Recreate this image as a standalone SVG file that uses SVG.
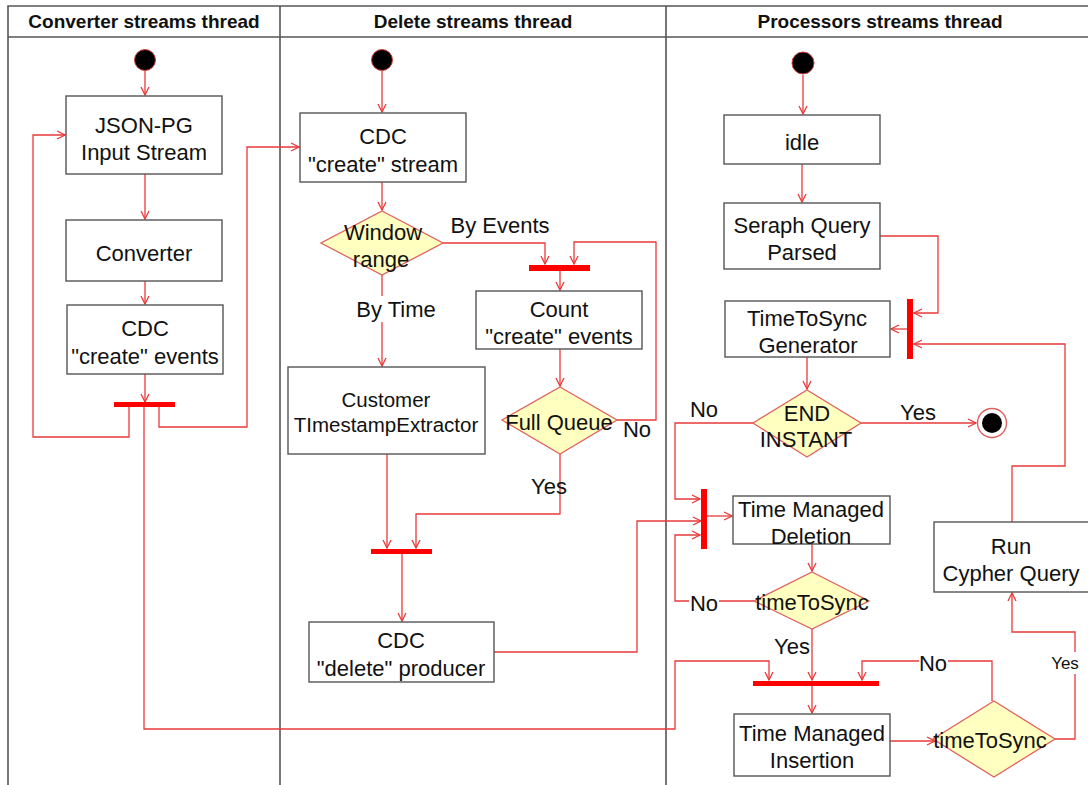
<svg xmlns="http://www.w3.org/2000/svg" width="1088" height="785" viewBox="0 0 1088 785">
  <style>
    .lane { stroke: #555; stroke-width: 1.6; fill: none; }
    .hdr { font-family: "Liberation Sans", Arial, sans-serif; font-weight: bold; font-size: 19px; fill: #111; text-anchor: middle; }
    .box { fill: #fff; stroke: #555; stroke-width: 1.4; }
    .dia { fill: #ffffc0; stroke: #e06060; stroke-width: 1.3; }
    .t { font-family: "Liberation Sans", Arial, sans-serif; font-size: 22px; fill: #111; text-anchor: middle; }
    .ts { font-size: 20.5px; }
    .lbl { font-family: "Liberation Sans", Arial, sans-serif; font-size: 22px; fill: #111; text-anchor: middle; }
    .edge { fill: none; stroke: #e83a3a; stroke-width: 1.3; }
    .bar { fill: #ff0000; }
    .start { fill: #000; stroke: #d04040; stroke-width: 1; }
  </style>
  <defs>
    <marker id="arr" markerWidth="10" markerHeight="10" refX="9" refY="5" orient="auto" markerUnits="userSpaceOnUse">
      <path d="M1,1 L9,5 L1,9" fill="none" stroke="#e83a3a" stroke-width="1.3"/>
    </marker>
  </defs>

  <rect width="1088" height="785" fill="#fff"/>

  <!-- swimlanes -->
  <g id="lanes">
    <path class="lane" d="M8,785 V6 H1088 M8,37 H1088 M280,6 V785 M666,6 V785"/>
    <text class="hdr" x="144" y="28">Converter streams thread</text>
    <text class="hdr" x="473" y="28">Delete streams thread</text>
    <text class="hdr" x="880" y="28">Processors streams thread</text>
  </g>

  <!-- connectors -->
  <g id="connectors">
    <!-- converter lane -->
    <path class="edge" marker-end="url(#arr)" d="M145,71 V95"/>
    <path class="edge" marker-end="url(#arr)" d="M145,174 V219"/>
    <path class="edge" marker-end="url(#arr)" d="M145,281 V304"/>
    <path class="edge" marker-end="url(#arr)" d="M145,374 V402"/>
    <path class="edge" marker-end="url(#arr)" d="M129,407 V437 H33 V135 H65"/>
    <path class="edge" marker-end="url(#arr)" d="M159,407 V427 H247 V147 H299"/>
    <path class="edge" marker-end="url(#arr)" d="M144,407 V729 H675 V661 H769 V680"/>
    <!-- delete lane -->
    <path class="edge" marker-end="url(#arr)" d="M382,71 V112"/>
    <path class="edge" marker-end="url(#arr)" d="M382,182 V210"/>
    <path class="edge" marker-end="url(#arr)" d="M443,243 H545 V264"/>
    <path class="edge" marker-end="url(#arr)" d="M617,420 H656 V242 H574 V264"/>
    <path class="edge" marker-end="url(#arr)" d="M560,271 V290"/>
    <path class="edge" marker-end="url(#arr)" d="M560,349 V386"/>
    <path class="edge" marker-end="url(#arr)" d="M382,275 V366"/>
    <path class="edge" marker-end="url(#arr)" d="M387,454 V548"/>
    <path class="edge" marker-end="url(#arr)" d="M560,454 V514 H416 V548"/>
    <path class="edge" marker-end="url(#arr)" d="M402,554 V621"/>
    <path class="edge" marker-end="url(#arr)" d="M494,652 H637 V521 H701"/>
    <!-- processors lane -->
    <path class="edge" marker-end="url(#arr)" d="M803,75 V114"/>
    <path class="edge" marker-end="url(#arr)" d="M802,164 V202"/>
    <path class="edge" marker-end="url(#arr)" d="M880,236 H938 V313 H914"/>
    <path class="edge" marker-end="url(#arr)" d="M907,329 H891"/>
    <path class="edge" marker-end="url(#arr)" d="M1012,522 V466 H1065 V344 H914"/>
    <path class="edge" marker-end="url(#arr)" d="M807,357 V389"/>
    <path class="edge" marker-end="url(#arr)" d="M861,423 H976"/>
    <path class="edge" marker-end="url(#arr)" d="M753,423 H675 V499 H700"/>
    <path class="edge" marker-end="url(#arr)" d="M707,516 H732"/>
    <path class="edge" marker-end="url(#arr)" d="M812,544 V571"/>
    <path class="edge" marker-end="url(#arr)" d="M754,601 H675 V535 H700"/>
    <path class="edge" marker-end="url(#arr)" d="M812,629 V680"/>
    <path class="edge" marker-end="url(#arr)" d="M812,686 V713"/>
    <path class="edge" marker-end="url(#arr)" d="M890,741 H935"/>
    <path class="edge" marker-end="url(#arr)" d="M992,701 V661 H862 V680"/>
    <path class="edge" marker-end="url(#arr)" d="M1055,739 H1075 V632 H1012 V593"/>

    <!-- guard labels -->
    <text class="lbl" x="500" y="233">By Events</text>
    <rect x="352" y="296" width="88" height="26" fill="#fff"/>
    <text class="lbl" x="396" y="317">By Time</text>
    <text class="lbl" x="637" y="437">No</text>
    <text class="lbl" x="549" y="494">Yes</text>
    <text class="lbl" x="704" y="417">No</text>
    <text class="lbl" x="918" y="420">Yes</text>
    <rect x="689" y="590" width="30" height="24" fill="#fff"/>
    <text class="lbl" x="704" y="611">No</text>
    <text class="lbl" x="792" y="654">Yes</text>
    <rect x="919" y="650" width="29" height="24" fill="#fff"/>
    <text class="lbl" x="933" y="671">No</text>
    <rect x="1049" y="652" width="32" height="22" fill="#fff"/>
    <text class="lbl" x="1065" y="669" style="font-size:17px">Yes</text>
  </g>

  <!-- converter lane nodes -->
  <g id="conv-start"><circle class="start" cx="145" cy="60" r="10.5"/></g>
  <g id="json-pg">
    <rect class="box" x="66" y="96" width="156" height="78"/>
    <text class="t" x="144" y="133">JSON-PG</text>
    <text class="t" x="144" y="160">Input Stream</text>
  </g>
  <g id="converter">
    <rect class="box" x="66" y="220" width="156" height="61"/>
    <text class="t" x="144" y="261">Converter</text>
  </g>
  <g id="cdc-create-events">
    <rect class="box" x="67" y="305" width="156" height="69"/>
    <text class="t" x="145" y="336">CDC</text>
    <text class="t" x="145" y="364">"create" events</text>
  </g>
  <g id="conv-fork"><rect class="bar" x="114" y="402" width="61" height="5"/></g>

  <!-- delete lane nodes -->
  <g id="del-start"><circle class="start" cx="382" cy="60" r="10.5"/></g>
  <g id="cdc-create-stream">
    <rect class="box" x="300" y="113" width="166" height="69"/>
    <text class="t" x="383" y="144">CDC</text>
    <text class="t" x="383" y="172">"create" stream</text>
  </g>
  <g id="window-range">
    <polygon class="dia" points="382,211 443,243 382,275 321,243"/>
    <text class="t" x="383" y="240">Window</text>
    <text class="t" x="381" y="267">range</text>
  </g>
  <g id="events-join"><rect class="bar" x="529" y="265" width="61" height="6"/></g>
  <g id="count-events">
    <rect class="box" x="476" y="291" width="166" height="58"/>
    <text class="t" x="559" y="317">Count</text>
    <text class="t" x="559" y="344">"create" events</text>
  </g>
  <g id="full-queue">
    <polygon class="dia" points="560,387 617,420 560,454 502,420"/>
    <text class="t" x="559" y="430">Full Queue</text>
  </g>
  <g id="timestamp-extractor">
    <rect class="box" x="288" y="367" width="197" height="87"/>
    <text class="t ts" x="386" y="407">Customer</text>
    <text class="t ts" x="386" y="432">TImestampExtractor</text>
  </g>
  <g id="delete-join"><rect class="bar" x="371" y="549" width="61" height="5"/></g>
  <g id="cdc-delete-producer">
    <rect class="box" x="309" y="622" width="185" height="60"/>
    <text class="t" x="401" y="648">CDC</text>
    <text class="t" x="401" y="676">"delete" producer</text>
  </g>

  <!-- processors lane nodes -->
  <g id="proc-start"><circle class="start" cx="803" cy="63" r="11"/></g>
  <g id="idle">
    <rect class="box" x="724" y="115" width="156" height="49"/>
    <text class="t" x="802" y="150">idle</text>
  </g>
  <g id="seraph-query">
    <rect class="box" x="724" y="203" width="156" height="66"/>
    <text class="t" x="802" y="233">Seraph Query</text>
    <text class="t" x="802" y="260">Parsed</text>
  </g>
  <g id="sync-join"><rect class="bar" x="907" y="299" width="6" height="60"/></g>
  <g id="timetosync-generator">
    <rect class="box" x="725" y="301" width="165" height="56"/>
    <text class="t" x="807" y="326">TimeToSync</text>
    <text class="t" x="808" y="353">Generator</text>
  </g>
  <g id="end-instant">
    <polygon class="dia" points="807,390 861,423 807,457 753,423"/>
    <text class="t" x="807" y="421">END</text>
    <text class="t" x="806" y="447">INSTANT</text>
  </g>
  <g id="final">
    <circle cx="992" cy="423" r="14.5" fill="#fff" stroke="#e06060" stroke-width="1.4"/>
    <circle cx="992" cy="423" r="10" fill="#000"/>
  </g>
  <g id="deletion-join"><rect class="bar" x="701" y="489" width="6" height="60"/></g>
  <g id="time-managed-deletion">
    <rect class="box" x="733" y="496" width="157" height="48"/>
    <text class="t" x="811" y="517">Time Managed</text>
    <text class="t" x="811" y="544">Deletion</text>
  </g>
  <g id="timetosync-1">
    <polygon class="dia" points="812,572 869,601 812,629 754,601"/>
    <text class="t" x="812" y="610">timeToSync</text>
  </g>
  <g id="insertion-join"><rect class="bar" x="753" y="681" width="126" height="5"/></g>
  <g id="time-managed-insertion">
    <rect class="box" x="734" y="714" width="156" height="62"/>
    <text class="t" x="812" y="741">Time Managed</text>
    <text class="t" x="812" y="768">Insertion</text>
  </g>
  <g id="timetosync-2">
    <polygon class="dia" points="994,701 1055,739 994,777 933,739"/>
    <text class="t" x="990" y="748">timeToSync</text>
  </g>
  <g id="run-cypher">
    <rect class="box" x="934" y="522" width="160" height="70"/>
    <text class="t" x="1011" y="554">Run</text>
    <text class="t" x="1011" y="581">Cypher Query</text>
  </g>
</svg>
